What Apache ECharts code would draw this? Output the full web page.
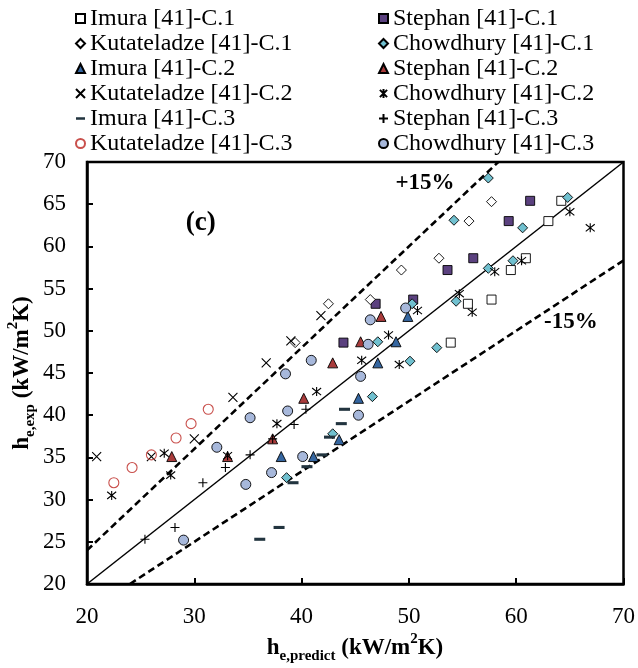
<!DOCTYPE html>
<html>
<head>
<meta charset="utf-8">
<script src="https://cdn.jsdelivr.net/npm/echarts@6/dist/echarts.min.js"></script>
<style>
html, body { margin: 0; padding: 0; background: #fff; }
#chart { width: 638px; height: 668px; }
</style>
</head>
<body>
<div id="chart"></div>
<script>
// Axis ranges and tick steps
const xRange = [20, 70];
const xStep = 10;
const yRange = [20, 70];
const yStep = 5;

// Measured vs predicted heat transfer coefficient, kW/m2K: [h_predict, h_exp]
const imuraC1 = [[64.2,65.4],[63.0,63.0],[60.9,58.6],[59.5,57.2],[57.7,53.7],[55.5,53.2],[53.9,48.6]];
const stephanC1 = [[61.3,65.4],[59.3,63.0],[56.0,58.6],[53.6,57.2],[50.4,53.7],[46.9,53.2],[43.9,48.6]];
const kutateladzeC1 = [[57.7,65.3],[55.6,63.0],[52.8,58.6],[49.3,57.2],[46.4,53.7],[42.5,53.2],[39.4,48.6]];
const chowdhuryC1 = [[57.4,68.1],[64.8,65.8],[60.6,62.2],[54.2,63.1],[59.7,58.3],[57.4,57.4],[54.4,53.5],[50.3,53.2],[47.1,48.7],[52.6,48.0],[50.1,46.4],[46.6,42.2],[42.9,37.8],[38.6,32.6]];
const imuraC2 = [[49.9,51.7],[48.8,48.7],[47.1,46.2],[45.3,42.0],[43.5,37.1],[41.1,35.1],[38.1,35.1]];
const stephanC2 = [[47.4,51.7],[45.5,48.7],[42.9,46.2],[40.2,42.0],[37.3,37.2],[33.1,35.1],[27.9,35.1]];
const kutateladzeC2 = [[41.8,51.8],[39.0,48.8],[36.7,46.2],[33.6,42.1],[30.0,37.2],[26.0,35.1],[20.9,35.1]];
const chowdhuryC2 = [[65.0,64.1],[66.9,62.2],[60.5,58.3],[58.0,57.0],[54.7,54.4],[50.8,52.4],[55.9,52.2],[48.1,49.5],[45.6,46.5],[49.1,46.0],[41.4,42.8],[37.7,39.0],[33.1,35.2],[27.2,35.5],[27.8,32.9],[22.3,30.5]];
const imuraC3 = [[44.0,40.7],[43.7,39.0],[42.6,37.4],[41.9,35.3],[40.5,33.9],[39.2,32.0],[37.9,26.7],[36.1,25.3]];
const stephanC3 = [[40.4,40.7],[39.3,38.9],[37.3,37.2],[35.2,35.3],[32.9,33.8],[30.8,32.0],[28.2,26.7],[25.4,25.3]];
const kutateladzeC3 = [[31.3,40.7],[29.7,39.0],[28.3,37.3],[26.0,35.3],[24.2,33.8],[22.5,32.0]];
const chowdhuryC3 = [[49.7,52.7],[46.4,51.3],[46.2,48.4],[40.9,46.5],[38.5,44.9],[45.5,44.6],[38.7,40.5],[35.2,39.7],[45.3,40.0],[32.1,36.2],[40.1,35.1],[37.2,33.2],[34.8,31.8],[29.0,25.2]];

// Parity line and the deviation band (h_exp = ratio * h_predict)
const bandRatios = [1.2, 1, 1 / 1.2];

const FONT = '"Liberation Serif", "Times New Roman", serif';

// Stroke-only glyph markers
const SYM_CROSS = 'path://M0,0L10,10M10,0L0,10';
const SYM_STAR = 'path://M1,1L9,9M9,1L1,9M5,0L5,10';
const SYM_PLUS = 'path://M5,0L5,10M0,5L10,5';
const SYM_DASH = 'path://M0,0M0,3.6L10,3.6L10,6.4L0,6.4ZM10,10';

function filled(name, data, symbol, size, color) {
  return {
    name, type: 'scatter', data, symbol, symbolSize: size, z: 3,
    itemStyle: { color, borderColor: '#000', borderWidth: 0.9, opacity: 1 }
  };
}
function stroked(name, data, symbol, size, color, width) {
  return {
    name, type: 'scatter', data, symbol, symbolSize: size, z: 3,
    itemStyle: { color: 'rgba(0,0,0,0)', borderColor: color, borderWidth: width, opacity: 1 }
  };
}

const pointSeries = [
  filled('Imura [41]-C.1', imuraC1, 'rect', 9, '#ffffff'),
  filled('Stephan [41]-C.1', stephanC1, 'rect', 9, '#5b417f'),
  filled('Kutateladze [41]-C.1', kutateladzeC1, 'diamond', 10, '#ffffff'),
  filled('Chowdhury [41]-C.1', chowdhuryC1, 'diamond', 10, '#70c0cf'),
  filled('Imura [41]-C.2', imuraC2, 'triangle', 10, '#3566a0'),
  filled('Stephan [41]-C.2', stephanC2, 'triangle', 10, '#a93b3b'),
  stroked('Kutateladze [41]-C.2', kutateladzeC2, SYM_CROSS, 9, '#000', 1.1),
  stroked('Chowdhury [41]-C.2', chowdhuryC2, SYM_STAR, 9, '#000', 1.1),
  { name: 'Imura [41]-C.3', type: 'scatter', data: imuraC3, symbol: SYM_DASH, symbolSize: 11, z: 3,
    itemStyle: { color: '#22343f', opacity: 1 } },
  stroked('Stephan [41]-C.3', stephanC3, SYM_PLUS, 9, '#000', 1.1),
  stroked('Kutateladze [41]-C.3', kutateladzeC3, 'circle', 10, '#c9504c', 1.1),
  filled('Chowdhury [41]-C.3', chowdhuryC3, 'circle', 10, '#a7b8db')
];

const lineSeries = bandRatios.map(function (r) {
  const x0 = Math.max(xRange[0], yRange[0] / r);
  const x1 = Math.min(xRange[1], yRange[1] / r);
  const dashed = r !== 1;
  return {
    type: 'line', data: [[x0, r * x0], [x1, r * x1]], showSymbol: false, silent: true, z: 2,
    lineStyle: { color: '#000', width: dashed ? 2.6 : 1.5, type: dashed ? [7, 4] : 'solid' },
    legendHoverLink: false
  };
});

const leftNames = ['Imura [41]-C.1', 'Kutateladze [41]-C.1', 'Imura [41]-C.2',
  'Kutateladze [41]-C.2', 'Imura [41]-C.3', 'Kutateladze [41]-C.3'];
const rightNames = ['Stephan [41]-C.1', 'Chowdhury [41]-C.1', 'Stephan [41]-C.2',
  'Chowdhury [41]-C.2', 'Stephan [41]-C.3', 'Chowdhury [41]-C.3'];

function legendAt(left, names) {
  return {
    orient: 'vertical', left, top: 6, padding: 0, itemGap: 0,
    itemWidth: 9, itemHeight: 9, selectedMode: false, data: names,
    textStyle: { fontFamily: FONT, fontSize: 24, color: '#000', lineHeight: 25 }
  };
}

const chart = echarts.init(document.getElementById('chart'), null, { renderer: 'canvas' });

chart.setOption({
  backgroundColor: '#fff',
  animation: false,
  legend: [legendAt(75, leftNames), legendAt(378, rightNames)],
  grid: { left: 87, right: 14, top: 162, bottom: 84, show: true, borderColor: '#000', borderWidth: 2.5, backgroundColor: 'transparent' },
  xAxis: {
    type: 'value', min: xRange[0], max: xRange[1], interval: xStep,
    axisLine: { show: true, lineStyle: { color: '#000', width: 2.5 } },
    axisTick: { show: true, inside: true, length: 6, lineStyle: { color: '#000', width: 2 } },
    axisLabel: { fontFamily: FONT, fontSize: 23, color: '#000', margin: 21 },
    splitLine: { show: false }
  },
  yAxis: {
    type: 'value', min: yRange[0], max: yRange[1], interval: yStep,
    axisLine: { show: true, lineStyle: { color: '#000', width: 2.5 } },
    axisTick: { show: true, inside: true, length: 6, lineStyle: { color: '#000', width: 2 } },
    axisLabel: { fontFamily: FONT, fontSize: 23, color: '#000', margin: 21 },
    splitLine: { show: false }
  },
  series: lineSeries.concat(pointSeries)
});

// Annotations placed in data coordinates
const titleRich = {
  m: { fontFamily: FONT, fontSize: 23, fontWeight: 'bold', fill: '#000', color: '#000', lineHeight: 32 },
  s: { fontFamily: FONT, fontSize: 15, fontWeight: 'bold', fill: '#000', color: '#000', verticalAlign: 'bottom' },
  p: { fontFamily: FONT, fontSize: 15, fontWeight: 'bold', fill: '#000', color: '#000', verticalAlign: 'top' }
};

function at(x, y) { return chart.convertToPixel({ gridIndex: 0 }, [x, y]); }
function boldText(pos, text, size) {
  return { type: 'text', x: pos[0], y: pos[1], z: 10,
    style: { text, font: 'bold ' + size + 'px ' + FONT, fill: '#000', textAlign: 'center', textVerticalAlign: 'middle' } };
}

chart.setOption({
  graphic: [
    boldText(at(30.6, 62.8), '(c)', 27),
    boldText(at(51.5, 67.5), '+15%', 23),
    boldText(at(65.1, 51.0), '-15%', 23),
    { type: 'text', x: 355, y: 648, z: 10,
      style: { text: '{m|h}{s|e,predict}{m| (kW/m}{p|2}{m|K)}', rich: titleRich, textAlign: 'center', textVerticalAlign: 'middle' } },
    { type: 'text', x: 22, y: 373, rotation: Math.PI / 2, z: 10,
      style: { text: '{m|h}{s|e,exp}{m| (kW/m}{p|2}{m|K)}', rich: titleRich, textAlign: 'center', textVerticalAlign: 'middle' } }
  ]
});
</script>
</body>
</html>
